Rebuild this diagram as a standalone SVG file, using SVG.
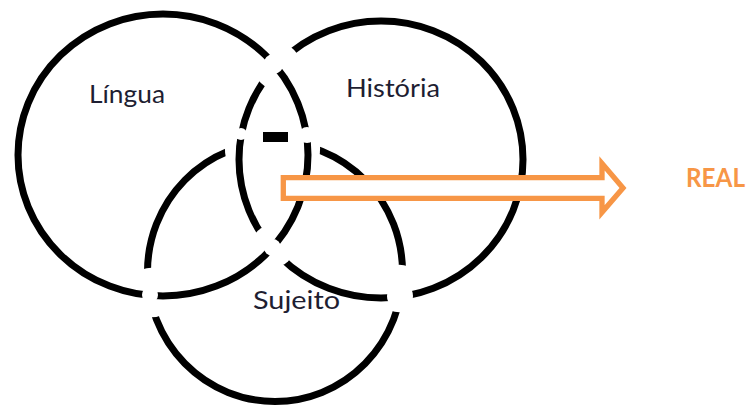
<svg xmlns="http://www.w3.org/2000/svg" width="749" height="408" viewBox="0 0 749 408">
<style>
.ring{fill:none;stroke:#000;stroke-width:7}
.lbl{font-family:Lato,"Open Sans","Liberation Sans",sans-serif;font-size:24.5px;fill:#1e1e32}
.real{font-family:Lato,"Open Sans","Liberation Sans",sans-serif;font-size:25.7px;font-weight:bold;fill:#F79646}
.arrow{fill:#fff;stroke:#F79646;stroke-width:5.3;stroke-linejoin:miter;stroke-miterlimit:10}
</style>
<defs>
<mask id="mL" maskUnits="userSpaceOnUse" x="0" y="0" width="749" height="408">
<rect width="749" height="408" fill="#fff"/>
<circle cx="273.5" cy="64" r="10"/>
<circle cx="307" cy="135" r="8"/>
<circle cx="272.5" cy="247.5" r="8.5"/>
<circle cx="150" cy="295" r="8"/>
</mask>
<mask id="mR" maskUnits="userSpaceOnUse" x="0" y="0" width="749" height="408">
<rect width="749" height="408" fill="#fff"/>
<circle cx="277.5" cy="66.5" r="23.5"/>
<circle cx="241" cy="134" r="6"/>
<circle cx="273" cy="246" r="21.5"/>
<circle cx="400" cy="296" r="13"/>
</mask>
<mask id="mS" maskUnits="userSpaceOnUse" x="0" y="0" width="749" height="408">
<rect width="749" height="408" fill="#fff"/>
<circle cx="272.5" cy="148" r="47.6"/>
<circle cx="151.5" cy="292.5" r="24.8"/>
<circle cx="399.3" cy="288.5" r="23.7"/>
</mask>
</defs>
<g id="lingua">
<ellipse class="ring" cx="163" cy="155" rx="145" ry="141" mask="url(#mL)"/>
<text class="lbl" x="89" y="103.3" textLength="76" lengthAdjust="spacingAndGlyphs">Língua</text>
</g>
<g id="historia">
<ellipse class="ring" cx="381" cy="159.5" rx="142" ry="138.5" mask="url(#mR)"/>
<text class="lbl" x="346" y="97.3" textLength="94" lengthAdjust="spacingAndGlyphs">História</text>
</g>
<g id="sujeito">
<ellipse class="ring" cx="275" cy="271.8" rx="127.5" ry="129.7" mask="url(#mS)"/>
<rect x="263" y="132" width="25" height="10" fill="#000"/>
<text class="lbl" x="253" y="309.3" textLength="87" lengthAdjust="spacingAndGlyphs">Sujeito</text>
</g>
<g id="connectors">
<path class="arrow" d="M283.3,177.7 H602 V163.4 L623,188 L602,212.3 V198.3 H283.3 Z"/>
</g>
<g id="real">
<text class="real" x="686" y="186.7" textLength="59" lengthAdjust="spacingAndGlyphs">REAL</text>
</g>
</svg>
